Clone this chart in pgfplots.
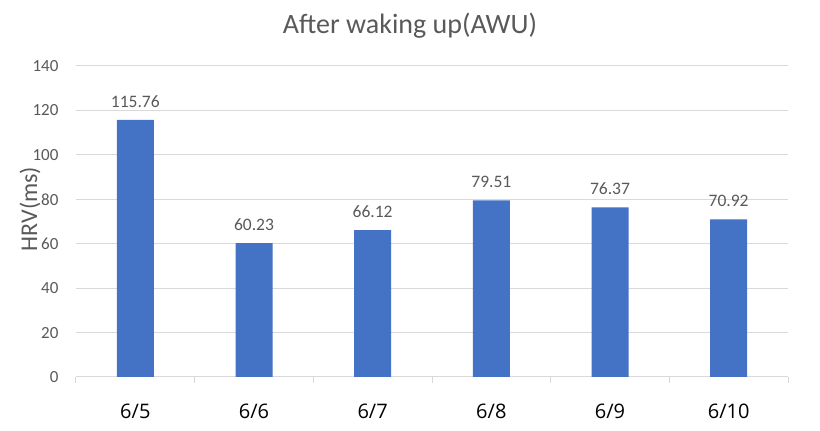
\documentclass[border=0pt]{standalone}
\usepackage{pgfplots}
\pgfplotsset{compat=1.18}
\usepackage{fontspec}
\setmainfont{Carlito}
\newfontfamily\xfont{Open Sans}
\definecolor{barblue}{HTML}{4472C4}
\definecolor{gridgray}{HTML}{D9D9D9}
\definecolor{txtgray}{HTML}{595959}
\begin{document}
\begin{tikzpicture}[x=1pt,y=1pt]
\path (0,0) rectangle (820,431);
\begin{axis}[
  at={(76pt,54pt)}, anchor=south west,
  scale only axis, width=712pt, height=311pt,
  xmin=-0.5, xmax=5.5, ymin=0, ymax=140,
  ytick={0,20,...,140},
  xtick={-0.5,0.5,...,5.5},
  x tick label as interval,
  xticklabels={6/5,6/6,6/7,6/8,6/9,6/10},
  xticklabel style={font=\xfont\fontsize{20}{24}\selectfont, text=black, yshift=-17pt},
  yticklabel style={font=\fontsize{17}{20}\selectfont, text=txtgray, xshift=-14pt},
  /pgf/number format/assume math mode=true,
  x tick style={draw=gridgray, line width=1pt},
  xtick align=outside,
  major tick length=6pt,
  y tick style={draw=none},
  ymajorgrids, grid style={gridgray, line width=1pt},
  axis x line*=bottom, axis y line*=left,
  y axis line style={draw=none},
  x axis line style={draw=gridgray, line width=1pt, -},
  ylabel={HRV(ms)},
  ylabel style={font=\fontsize{24}{29}\selectfont, text=txtgray, at={(axis description cs:-0.0646,0.54)}, anchor=center},
  title={After waking up(AWU)},
  title style={font=\fontsize{28}{33}\selectfont, text=txtgray, yshift=18pt, xshift=-22pt},
  nodes near coords,
  every node near coord/.append style={font=\fontsize{17.5}{21}\selectfont, text=txtgray, yshift=9pt},
  nodes near coords style={/pgf/number format/.cd, fixed, fixed zerofill, precision=2},
  clip=false,
]
\addplot[ybar, bar width=37pt, fill=barblue, draw=none] coordinates {
(0,115.76) (1,60.23) (2,66.12) (3,79.51) (4,76.37) (5,70.92)};
\end{axis}
\end{tikzpicture}
\end{document}
